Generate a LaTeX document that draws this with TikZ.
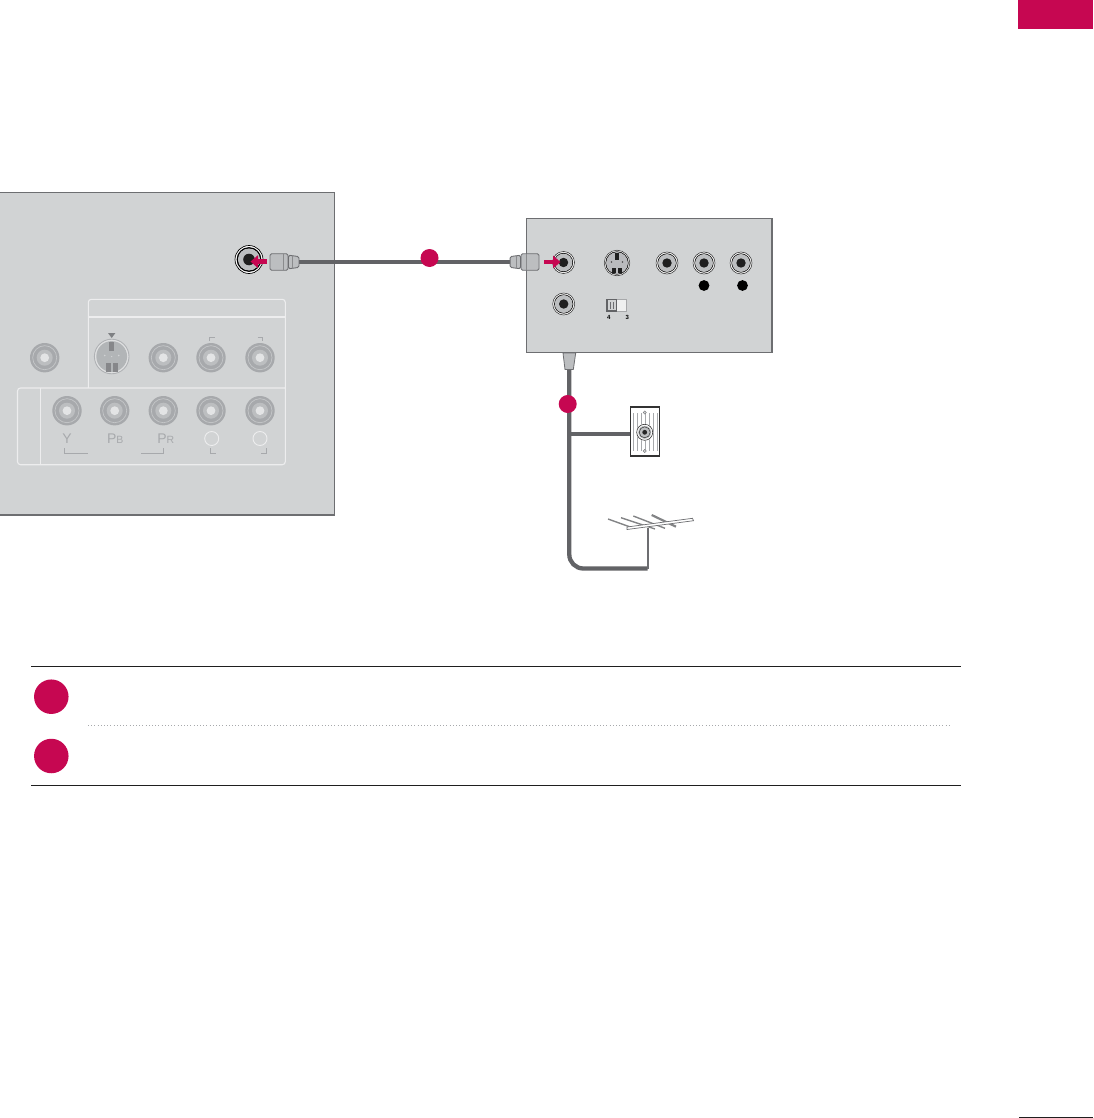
\documentclass[tikz,border=0pt]{standalone}
\usepackage{fontspec}
\setmainfont{Liberation Sans}
\usepackage[dvipsnames,table]{xcolor}
\usetikzlibrary{arrows.meta,calc,positioning}
\definecolor{lgred}{HTML}{C60751}
\definecolor{panelgray}{HTML}{D1D3D4}
\definecolor{edgegray}{HTML}{6D6E71}
\definecolor{cablegray}{HTML}{626366}
\definecolor{portgray}{HTML}{A7A9AC}
\definecolor{plugfill}{HTML}{BCBEC0}
\begin{document}
\begin{tikzpicture}[x=1pt,y=-1pt,
    panel/.style={fill=panelgray,draw=edgegray,line width=1.6pt},
    silk/.style={draw=panelgray!40!white,line width=1.1pt},
    silktext/.style={text=portgray,font=\fontsize{14}{14}\selectfont,inner sep=0pt},
    tick/.style={draw=portgray,line width=0.8pt},
    cable/.style={draw=cablegray,line width=4.3pt},
    badge/.style={circle,fill=lgred,inner sep=0pt,minimum size=18pt},
    bigbadge/.style={circle,fill=lgred,inner sep=0pt,minimum size=34.5pt},
    plugbody/.style={draw=edgegray,fill=plugfill,line width=0.9pt,rounded corners=1.5pt,inner sep=0pt,minimum height=16.5pt,minimum width=18pt},
    plugneck/.style={draw=edgegray,fill=plugfill,line width=0.9pt,rounded corners=1.5pt},
    plugring/.style={draw=edgegray!80,line width=0.6pt},
    platehatch/.style={draw=portgray,line width=0.55pt},
    antennarod/.style={draw=edgegray!85,line width=1.4pt},
    pointer/.style={draw=lgred,line width=4.4pt,-{Triangle[length=7.5pt,width=12.5pt]}},
    rule/.style={draw=black!88,line width=1pt}]
  \useasboundingbox (0,0) rectangle (1093,1118);
  % grey connectors of the faded panel
  \def\fadedjack#1{
    \fill[portgray] (#1) circle (14.7pt);
    \draw[panelgray!70!portgray,line width=0.7pt] (#1) circle (12pt);
    \fill[plugfill] (#1) circle (8pt);
    \fill[panelgray!60!white] (#1) circle (4.4pt);
  }
  % dark connectors of the active panel
  \def\darkjack#1{
    \fill[white] (#1) circle (11pt);
    \draw[black!85,line width=0.5pt] (#1) circle (11pt);
    \draw[black!85,line width=0.9pt] (#1) circle (9.2pt);
    \fill[plugfill] (#1) circle (8.6pt);
    \fill[black!88] (#1) circle (4.7pt);
  }

  % tab and page rule
  \fill[lgred] (1018,0) rectangle (1093,29);
  \draw[rule] (1019,1117.2) -- (1093,1117.2);

  % left panel
  \draw[panel] (-0.6,192.6) rectangle (334.4,515);
  \draw[silk,rounded corners=3pt] (88.3,388) -- (88.3,299.3) -- (285.3,299.3) -- (285.3,464.7) -- (17.5,464.7) -- (17.5,388) -- (285.3,388);
  \draw[silk] (88.3,317) -- (285.3,317);
  \draw[silk,line width=1.4pt] (40.7,388) -- (40.7,464.7);

  \coordinate (rf) at (249,259.5);
  \coordinate (aa) at (44.7,357.7);
  \coordinate (ab) at (163.3,357.7);
  \coordinate (ac) at (211,357.7);
  \coordinate (ad) at (260,357.7);
  \coordinate (ba) at (67,410.7);
  \coordinate (bb) at (114.7,410.7);
  \coordinate (bc) at (163.3,410.7);
  \coordinate (bd) at (211,410.7);
  \coordinate (be) at (260,410.7);
  \fadedjack{aa}
  \fadedjack{ab}
  \fadedjack{ac}
  \fadedjack{ad}
  \fadedjack{ba}
  \fadedjack{bb}
  \fadedjack{bc}
  \fadedjack{bd}
  \fadedjack{be}

  % faded s-video
  \coordinate (sv) at (111.7,356.5);
  \draw[portgray!80!panelgray,line width=0.9pt] (sv) circle (17.3pt);
  \fill[panelgray!70!white] (sv) circle (16.6pt);
  \fill[plugfill!55!portgray] (sv) circle (15.4pt);
  \fill[portgray!80!black] ($(sv)+(-2.5,-15)$) rectangle ($(sv)+(2.5,-6)$);
  \fill[portgray!80!black] ($(sv)+(-6,6.5)$) rectangle ($(sv)+(-1,15)$);
  \fill[portgray!80!black] ($(sv)+(1,6.5)$) rectangle ($(sv)+(6,15)$);
  \fill[panelgray] ($(sv)+(-7,-1)$) circle (0.9pt);
  \fill[panelgray] ($(sv)+(7,-1)$) circle (0.9pt);
  \fill[panelgray] ($(sv)+(0,0)$) circle (0.7pt);
  \fill[edgegray!70!portgray] (108,333) -- (115.4,333) -- (111.7,338) -- cycle;

  \draw[tick] (209.7,341) -- (209.7,337) -- (214.5,337);
  \draw[tick] (257.5,337) -- (262.5,337) -- (262.5,341);
  \node[silktext] (ylabel) at (67,438.5) {Y};
  \node[silktext] (pblabel) at (115.3,438.5) {P\fontsize{10.5}{10.5}\selectfont B};
  \node[silktext] (prlabel) at (165.8,438.5) {P\fontsize{10.5}{10.5}\selectfont R};
  \draw[silk,line width=0.9pt] (211.7,438.5) circle (7pt);
  \draw[silk,line width=0.9pt] (260,438.5) circle (7pt);
  \draw[tick] (64,448) -- (64,453) -- (87.7,453);
  \draw[tick] (141,453) -- (163.7,453) -- (163.7,448);
  \draw[tick] (210.7,448) -- (210.7,453) -- (215.7,453);
  \draw[tick] (261,453) -- (266.7,453) -- (266.7,448);

  % right panel
  \draw[panel] (526.4,218.4) rectangle (772,352.6);
  \coordinate (ca) at (563.5,262.5);
  \coordinate (cb) at (667,263);
  \coordinate (cc) at (704,263);
  \coordinate (cd) at (741,263);
  \coordinate (ce) at (563.7,304);
  \fill[white] (rf) circle (14.3pt);
  \draw[black,line width=0.7pt] (rf) circle (14pt);
  \draw[black,line width=1.5pt] (rf) circle (11.6pt);
  \fill[plugfill] (rf) circle (11pt);
  \fill[black!88] (rf) circle (5.8pt);
  \darkjack{ca}
  \darkjack{cb}
  \darkjack{cc}
  \darkjack{cd}
  \darkjack{ce}
  \fill (704,285.5) circle (5.4pt);
  \fill (742.5,285.5) circle (5.4pt);

  % dark s-video
  \coordinate (sw) at (617,263);
  \fill[white] (sw) circle (13pt);
  \draw[black!85,line width=0.5pt] (sw) circle (12.8pt);
  \draw[black!85,line width=1pt] (sw) circle (11.2pt);
  \fill[portgray!80!white] (sw) circle (10.7pt);
  \fill[black!88] ($(sw)+(-2,-10.5)$) rectangle ($(sw)+(2,-3.5)$);
  \fill[black!88] ($(sw)+(-5,4.5)$) rectangle ($(sw)+(-0.6,10.2)$);
  \fill[black!88] ($(sw)+(0.6,4.5)$) rectangle ($(sw)+(5,10.2)$);
  \fill[black!70] ($(sw)+(-5.5,-1)$) circle (0.9pt);
  \fill[black!70] ($(sw)+(5.5,-1)$) circle (0.9pt);

  % switch
  \draw[draw=edgegray!60,fill=panelgray!35!white,line width=0.5pt] (616.7,299.5) rectangle (626.7,310.8);
  \draw[draw=edgegray!90!black,line width=1.4pt,fill=panelgray] (607,299.5) rectangle (616.7,310.8);
  \draw[edgegray,line width=0.6pt] (610.4,302) -- (610.4,308.5);
  \draw[edgegray,line width=0.6pt] (613.4,302) -- (613.4,308.5);
  \node[font=\bfseries\fontsize{6}{6}\selectfont,inner sep=0pt] (swfour) at (608.7,317) {4};
  \node[font=\bfseries\fontsize{6}{6}\selectfont,inner sep=0pt] (swthree) at (627.3,317) {3};

  % rf cable between the plugs
  \node[plugbody] (tvplug) at (279,262) {};
  \node[plugbody] (boxplug) at (530,262) {};
  \draw[cable] (tvplug) -- (boxplug);
  \draw[plugneck] (tvplug.east) ++(0,-6.8) -- ++(10.5,1.4) -- ++(0,10.8) -- ++(-10.5,1.4) -- cycle;
  \draw[plugneck] (boxplug.west) ++(0,-6.8) -- ++(-10.5,1.4) -- ++(0,10.8) -- ++(10.5,1.4) -- cycle;
  \draw[plugring] (283.5,254) -- (283.5,270);
  \draw[plugring] (292,256) -- (292,268);
  \draw[plugring] (526,254) -- (526,270);
  \draw[plugring] (516,256) -- (516,268);
  \node[badge] (cablebadge) at (429.5,258) {};
  \coordinate (tvtip) at (250.5,261.6);
  \coordinate (tvtail) at (266.5,261.6);
  \coordinate (boxtip) at (560.5,262);
  \coordinate (boxtail) at (544,262);
  \draw[pointer] (tvtail) -- (tvtip);
  \draw[pointer] (boxtail) -- (boxtip);

  % feed line to the wall plate and the antenna
  \coordinate (feedtop) at (569.3,368);
  \coordinate (tap) at (569.3,433.7);
  \coordinate (mastfoot) at (647.5,568.5);
  \coordinate (masttop) at (647.5,528);
  \node[draw=black!80,fill=white,line width=1.4pt,minimum width=29.5pt,minimum height=49pt,inner sep=0pt] (wallplate) at (645,431.5) {};
  \draw[cable,rounded corners=14pt] (feedtop) |- (mastfoot);
  \draw[cable] (tap) -- (tap -| wallplate.west);
  \draw[draw=edgegray,fill=plugfill,line width=0.8pt] (563,353) -- (575.7,353) -- (573.3,369.5) -- (565,369.5) -- cycle;
  \node[badge] (feedbadge) at (567.7,404) {};

  % wall plate details
  \foreach \hx in {633,637,641,645,649,653,657}
    \draw[platehatch] (\hx,413) -- (\hx,451);
  \coordinate (wj) at (644.7,432.3);
  \fill[white] (wj) circle (8.6pt);
  \draw[black!80,line width=0.6pt] (wj) circle (8pt);
  \fill[plugfill] (wj) circle (6.5pt);
  \draw[black!80,line width=0.5pt] (wj) circle (5.5pt);
  \fill[black!85] (wj) circle (2.4pt);
  \draw[edgegray,fill=panelgray,line width=0.4pt] (644.7,412.5) circle (1.6pt);
  \draw[edgegray,fill=panelgray,line width=0.4pt] (644.7,451) circle (1.6pt);

  % antenna
  \draw[edgegray,line width=2pt] (masttop) -- (mastfoot);
  \draw[antennarod] (608,519) -- (633,528);
  \draw[antennarod] (621,517.7) -- (655,529);
  \draw[antennarod] (633.3,516) -- (665,528.3);
  \draw[antennarod,line width=2.2pt] (651.7,515) -- (676,526.7);
  \draw[edgegray,fill=white,line width=0.7pt] (627,527) -- (692.5,518.3) -- (693.5,520.7) -- (627,529.5) -- cycle;

  % notes table
  \draw[rule] (31,666) -- (961,666);
  \draw[rule] (31,785.3) -- (961,785.3);
  \draw[portgray,line width=1pt,dash pattern=on 1pt off 2.2pt] (88,725.4) -- (950,725.4);
  \node[bigbadge] (noteone) at (51.3,696.7) {};
  \node[bigbadge] (notetwo) at (51.3,756) {};
\end{tikzpicture}
\end{document}
